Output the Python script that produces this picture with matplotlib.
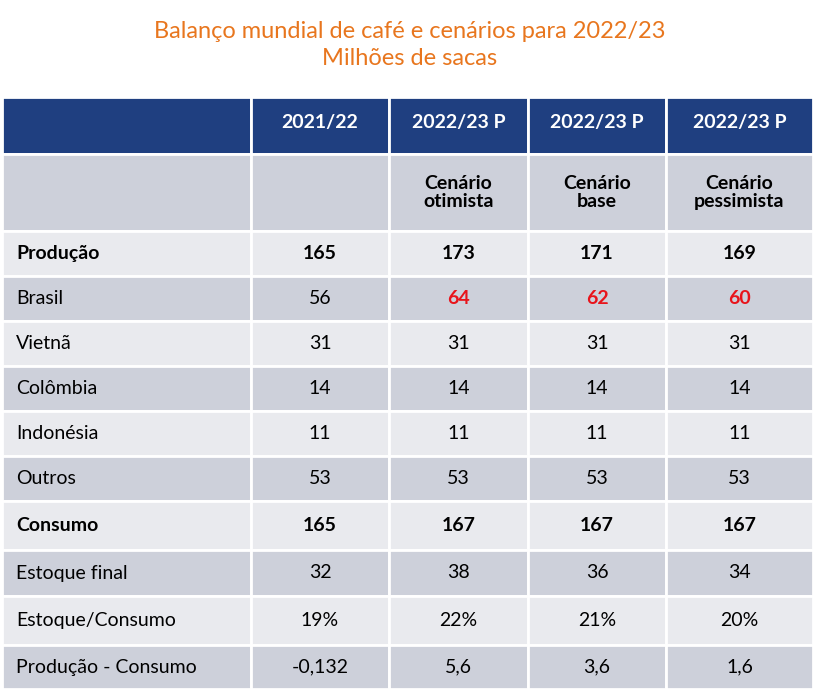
import matplotlib
matplotlib.use("Agg")
import matplotlib.pyplot as plt
from matplotlib.patches import Rectangle

title = "Balanço mundial de café e cenários para 2022/23\nMilhões de sacas"
col_headers = ["", "2021/22", "2022/23 P", "2022/23 P", "2022/23 P"]
scenarios = ["", "", "Cenário\notimista", "Cenário\nbase", "Cenário\npessimista"]
row_labels = ["Produção", "Brasil", "Vietnã", "Colômbia", "Indonésia", "Outros",
              "Consumo", "Estoque final", "Estoque/Consumo", "Produção - Consumo"]
v2021 = ["165", "56", "31", "14", "11", "53", "165", "32", "19%", "-0,132"]
otimista = ["173", "64", "31", "14", "11", "53", "167", "38", "22%", "5,6"]
base = ["171", "62", "31", "14", "11", "53", "167", "36", "21%", "3,6"]
pessimista = ["169", "60", "31", "14", "11", "53", "167", "34", "20%", "1,6"]
bold_rows = ["Produção", "Consumo"]
red_rows = ["Brasil"]

W, H = 820, 696
fig = plt.figure(figsize=(W/100, H/100), dpi=100)
ax = fig.add_axes([0, 0, 1, 1])
ax.set_xlim(0, W); ax.set_ylim(H, 0); ax.axis("off")
font = "Lato"
ax.text(410, 45, title, ha="center", va="center", fontsize=17, color="#E8761E",
        family=font, linespacing=1.35)

cols = [2, 251, 389, 528, 666, 813]
rows = [97, 154, 231, 276, 321, 366, 411, 456, 501, 550, 596, 645, 689]
dark, light = "#CDD0DA", "#E9EAEE"
navy = "#1F3F80"

def cell(r, c, color):
    ax.add_patch(Rectangle((cols[c], rows[r]), cols[c+1]-cols[c], rows[r+1]-rows[r],
                           facecolor=color, edgecolor="white", lw=2))

for c in range(5):
    cell(0, c, navy)
    ax.text((cols[c]+cols[c+1])/2, (rows[0]+rows[1])/2 - 3, col_headers[c], ha="center",
            va="center", color="white", fontsize=14, fontweight="bold", family=font)
    cell(1, c, dark)
    ax.text((cols[c]+cols[c+1])/2, (rows[1]+rows[2])/2, scenarios[c], ha="center",
            va="center", color="black", fontsize=14, fontweight="bold", family=font,
            linespacing=1.1)

data = [v2021, otimista, base, pessimista]
for i, lab in enumerate(row_labels):
    r = i + 2
    color = light if i % 2 == 0 else dark
    yc = (rows[r]+rows[r+1])/2
    bold = lab in bold_rows
    for c in range(5):
        cell(r, c, color)
    ax.text(16, yc, lab, ha="left", va="center", fontsize=14, family=font,
            fontweight="bold" if bold else "normal")
    for j, series in enumerate(data):
        red = lab in red_rows and j > 0
        ax.text((cols[j+1]+cols[j+2])/2, yc, series[i], ha="center", va="center",
                fontsize=14, family=font, color="#E8141B" if red else "black",
                fontweight="bold" if (bold or red) else "normal")

fig.savefig("out.png", dpi=100, facecolor="white")
